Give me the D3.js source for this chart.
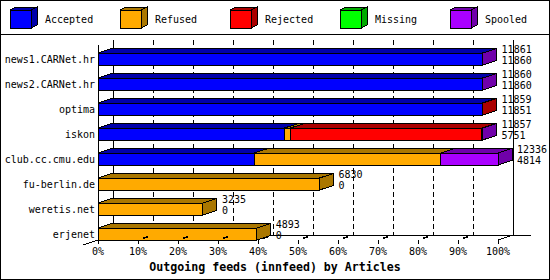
<!DOCTYPE html>
<html>
<head>
<meta charset="utf-8">
<script src="https://cdn.jsdelivr.net/npm/d3@7"></script>
<style>
  body { margin: 0; background: #fff; }
  svg { display: block; font-family: "DejaVu Sans Mono", monospace; }
</style>
</head>
<body>
<script>
// Hosts (one bar each) and the stacked article counts per series
const hosts = ['news1.CARNet.hr', 'news2.CARNet.hr', 'optima', 'iskon',
    'club.cc.cmu.edu', 'fu-berlin.de', 'weretis.net', 'erjenet'];
const accepted = [11860, 11860, 11851, 5751, 4814, 0, 0, 0];
const refused  = [0, 0, 0, 185, 5764, 6830, 3235, 4893];
const rejected = [0, 0, 8, 5901, 0, 0, 0, 0];
const missing  = [0, 0, 0, 0, 0, 0, 0, 0];
const spooled  = [1, 1, 0, 20, 1758, 0, 0, 0];
// Numbers printed at the bar ends
const totals = [11861, 11860, 11859, 11857, 12336, 6830, 3235, 4893];
const acceptedLabels = [11860, 11860, 11851, 5751, 4814, 0, 0, 0];
const tickLabels = ['0%', '10%', '20%', '30%', '40%', '50%', '60%', '70%', '80%', '90%', '100%'];

const seriesNames = ['Accepted', 'Refused', 'Rejected', 'Missing', 'Spooled'];
const seriesValues = [accepted, refused, rejected, missing, spooled];
const colors = ['#0000ff', '#ffaa00', '#ff0000', '#00ff00', '#aa00ff'];
const darks  = ['#0000aa', '#aa7700', '#aa0000', '#00aa00', '#7000aa'];

const W = 550, H = 280;
const depthX = 15, depthY = 5;     // depth of the plot box
const barDX = 14, barDY = 4.5;     // depth of each bar

const svg = d3.select("body").append("svg")
    .attr("width", W)
    .attr("height", H)
    .attr("shape-rendering", "crispEdges");

svg.append("rect")
    .attr("x", 0.5).attr("y", 0.5)
    .attr("width", W - 1).attr("height", H - 1)
    .attr("fill", "#fff").attr("stroke", "#000");

svg.append("line")
    .attr("x1", 0).attr("x2", W)
    .attr("y1", 34.5).attr("y2", 34.5)
    .attr("stroke", "#000");

// Legend boxes
const legend = svg.append("g");
seriesNames.forEach((name, i) => {
    const lx = 10 + 110 * i, ly = 10, lw = 21, lh = 18, ddx = 6, ddy = 3;
    legend.append("polygon")
        .attr("points", [[lx, ly], [lx + ddx, ly - ddy], [lx + lw + ddx, ly - ddy], [lx + lw, ly]].join(" "))
        .attr("fill", darks[i]).attr("stroke", "#000");
    legend.append("polygon")
        .attr("points", [[lx + lw, ly], [lx + lw + ddx, ly - ddy], [lx + lw + ddx, ly + lh - ddy], [lx + lw, ly + lh]].join(" "))
        .attr("fill", darks[i]).attr("stroke", "#000");
    legend.append("rect")
        .attr("x", lx).attr("y", ly).attr("width", lw).attr("height", lh)
        .attr("fill", colors[i]).attr("stroke", "#000");
    legend.append("text")
        .attr("x", lx + 35).attr("y", ly + lh / 2 + 1)
        .attr("dominant-baseline", "middle")
        .attr("font-size", "10px")
        .text(name);
});

// Scales
const x = d3.scaleLinear().domain([0, d3.max(totals)]).range([98, 498]);
const xPct = d3.scaleLinear().domain([0, 100]).range([98, 498]);
const y = d3.scaleBand().domain(hosts).range([40, 253]).padding(0.52);

const topY = 40, floorY = 235, frontY = 240;

// Back wall grid lines
const grid = svg.append("g").attr("stroke", "#000");
d3.range(10, 100, 10).forEach(p => {
    grid.append("line")
        .attr("x1", xPct(p) + depthX).attr("x2", xPct(p) + depthX)
        .attr("y1", topY).attr("y2", floorY)
        .attr("stroke-dasharray", "5,3");
});
grid.append("line")
    .attr("x1", xPct(0) + depthX).attr("x2", xPct(0) + depthX)
    .attr("y1", topY).attr("y2", floorY);
grid.append("line")
    .attr("x1", xPct(100) + depthX).attr("x2", xPct(100) + depthX)
    .attr("y1", topY).attr("y2", floorY);
// floor
grid.append("line")
    .attr("x1", xPct(0) + depthX).attr("x2", xPct(100) + depthX + 18)
    .attr("y1", floorY).attr("y2", floorY);
grid.append("line")
    .attr("x1", xPct(0) + depthX).attr("y1", floorY)
    .attr("x2", xPct(0) - depthX).attr("y2", frontY + depthY);
grid.append("line")
    .attr("x1", xPct(100)).attr("y1", frontY)
    .attr("x2", xPct(100) + depthX).attr("y2", floorY);
// front left axis
grid.append("line")
    .attr("x1", xPct(0)).attr("x2", xPct(0))
    .attr("y1", topY + depthY).attr("y2", frontY);

// Bars
const bars = svg.append("g");
hosts.forEach((host, r) => {
    const yt = y(host), h = y.bandwidth();
    let cum = 0;
    seriesValues.forEach((vals, s) => {
        const v = vals[r];
        if (!v) return;
        const x0 = x(cum), x1 = x(cum + v);
        cum += v;
        bars.append("polygon")
            .attr("points", [[x0, yt], [x0 + barDX, yt - barDY], [x1 + barDX, yt - barDY], [x1, yt]].join(" "))
            .attr("fill", darks[s]).attr("stroke", "#000");
        bars.append("polygon")
            .attr("points", [[x1, yt], [x1 + barDX, yt - barDY], [x1 + barDX, yt + h - barDY], [x1, yt + h]].join(" "))
            .attr("fill", darks[s]).attr("stroke", "#000");
        bars.append("rect")
            .attr("x", x0).attr("y", yt)
            .attr("width", x1 - x0).attr("height", h)
            .attr("fill", colors[s]).attr("stroke", "#000");
    });
    // value labels
    const lx = x(cum) + barDX + 5;
    bars.append("text")
        .attr("x", lx).attr("y", yt - 3)
        .attr("dominant-baseline", "middle")
        .attr("font-size", "10px")
        .text(totals[r]);
    bars.append("text")
        .attr("x", lx).attr("y", yt + 8)
        .attr("dominant-baseline", "middle")
        .attr("font-size", "10px")
        .text(acceptedLabels[r]);
    // host label
    bars.append("text")
        .attr("x", 95).attr("y", yt + h / 2 + 1)
        .attr("text-anchor", "end")
        .attr("dominant-baseline", "middle")
        .attr("font-size", "10px")
        .text(host);
});

// X ticks and labels
const axis = svg.append("g");
tickLabels.forEach((t, i) => {
    const tx = xPct(i * 10);
    axis.append("line")
        .attr("x1", tx).attr("x2", tx)
        .attr("y1", frontY).attr("y2", frontY + 4)
        .attr("stroke", "#000");
    if (i > 0 && i < 10) {
        axis.append("line")
            .attr("x1", tx + 5).attr("y1", frontY - 1.7)
            .attr("x2", tx + 10).attr("y2", frontY - 3.3)
            .attr("stroke", "#000").attr("stroke-width", 1.5);
    }
    axis.append("text")
        .attr("x", tx).attr("y", 252)
        .attr("text-anchor", "middle")
        .attr("dominant-baseline", "middle")
        .attr("font-size", "10px")
        .text(t);
});

svg.append("text")
    .attr("x", W / 2).attr("y", 267)
    .attr("text-anchor", "middle")
    .attr("dominant-baseline", "middle")
    .attr("font-size", "11.6px")
    .attr("font-weight", "bold")
    .text("Outgoing feeds (innfeed) by Articles");
</script>
</body>
</html>
